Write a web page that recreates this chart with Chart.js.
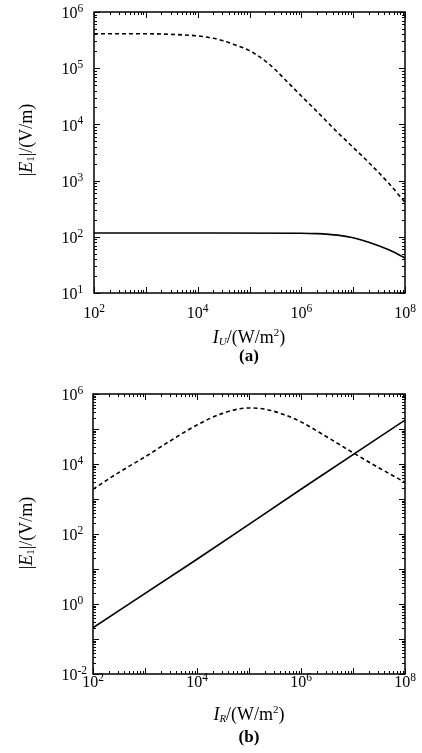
<!DOCTYPE html>
<html>
<head>
<meta charset="utf-8">
<script src="https://cdn.jsdelivr.net/npm/chart.js@4.4.0/dist/chart.umd.min.js"></script>
<style>
    body { margin: 0; background: #fff; }
    canvas { display: block; }
</style>
</head>
<body>
<canvas id="graficoA" width="422" height="380"></canvas>
<canvas id="graficoB" width="422" height="373"></canvas>
<script>
// Panel (a): |E1| frente a I_U
var intensidadU = [1e2, 1e3, 3e3, 1e4, 2e4, 3e4, 5e4, 1e5, 2e5, 3e5, 5e5, 1e6, 2e6, 5e6, 1e7, 2e7, 5e7, 1e8];
var campoDiscontinuoA = [4.1e5, 4.1e5, 4.0e5, 3.75e5, 3.4e5, 3.1e5, 2.65e5, 2.05e5, 1.35e5, 9.8e4, 6.1e4, 3.2e4, 1.7e4, 7.2e3, 3.9e3, 2.1e3, 870, 410];
var intensidadU2 = [1e2, 1e4, 1e6, 2e6, 5e6, 1e7, 2e7, 5e7, 1e8];
var campoSolidoA = [117, 117, 116, 114, 107, 96, 80, 58, 42];

// Panel (b): |E1| frente a I_R
var intensidadR = [1e2, 3e2, 1e3, 3e3, 1e4, 3e4, 1e5, 2e5, 5e5, 1e6, 3e6, 1e7, 3e7, 1e8];
var campoDiscontinuoB = [1.9e3, 5.5e3, 1.6e4, 4.5e4, 1.3e5, 2.75e5, 4.0e5, 3.7e5, 2.5e5, 1.6e5, 6.2e4, 2.1e4, 8.1e3, 3.0e3];
var intensidadR2 = [1e2, 1e4, 1e6, 1e8];
var campoSolidoB = [0.21, 19, 1.9e3, 1.8e5];

// Etiquetas de los ejes
var etiquetasX = [1e2, 1e4, 1e6, 1e8];
var etiquetasYA = [1e1, 1e2, 1e3, 1e4, 1e5, 1e6];
var etiquetasYB = [1e-2, 1e0, 1e2, 1e4, 1e6];

var fuente = "'Liberation Serif', 'Times New Roman', serif";

document.addEventListener('DOMContentLoaded', f_principal);

function f_principal() {
    graficoA();
    graficoB();
}

function exponente(v) {
    return String(Math.round(Math.log10(v)));
}

function puntos(xs, ys) {
    return xs.map(function (x, i) { return { x: x, y: ys[i] }; });
}

// recorre las marcas de una escala logaritmica (decadas y 2..9)
function marcasLog(min, max, cb) {
    var e0 = Math.round(Math.log10(min)), e1 = Math.round(Math.log10(max));
    for (var e = e0; e <= e1; e++) {
        for (var m = 1; m <= 9; m++) {
            var v = m * Math.pow(10, e);
            if (v > max * 1.0001) break;
            cb(v, m == 1 ? 6 : 3);
        }
    }
}

// marco y marcas hacia dentro en los cuatro lados
var pluginMarcas = {
    id: 'marcas',
    afterDatasetsDraw: function (chart) {
        var ctx = chart.ctx, a = chart.chartArea;
        var sx = chart.scales.x, sy = chart.scales.y;
        ctx.save();
        ctx.strokeStyle = '#000';
        ctx.lineWidth = 1;
        ctx.beginPath();
        marcasLog(sx.min, sx.max, function (v, largo) {
            var px = Math.round(sx.getPixelForValue(v)) + 0.5;
            ctx.moveTo(px, a.bottom); ctx.lineTo(px, a.bottom - largo);
            ctx.moveTo(px, a.top); ctx.lineTo(px, a.top + largo);
        });
        marcasLog(sy.min, sy.max, function (v, largo) {
            var py = Math.round(sy.getPixelForValue(v)) + 0.5;
            ctx.moveTo(a.left, py); ctx.lineTo(a.left + largo, py);
            ctx.moveTo(a.right, py); ctx.lineTo(a.right - largo, py);
        });
        ctx.stroke();
        ctx.lineWidth = 1.5;
        ctx.strokeRect(a.left, a.top, a.right - a.left, a.bottom - a.top);
        ctx.restore();
    }
};

// "10" con el exponente elevado; alinear: 'centro' o 'base' (el 10 termina en x)
function potencia(ctx, v, x, y, alinear) {
    var e = exponente(v);
    ctx.font = '16px ' + fuente;
    var a1 = ctx.measureText('10').width;
    ctx.font = '11.5px ' + fuente;
    var a2 = ctx.measureText(e).width;
    var x0 = alinear == 'centro' ? x - (a1 + a2) / 2 : x - a1;
    ctx.textAlign = 'left';
    ctx.textBaseline = 'middle';
    ctx.fillStyle = '#000';
    ctx.font = '16px ' + fuente;
    ctx.fillText('10', x0, y);
    ctx.font = '11.5px ' + fuente;
    ctx.fillText(e, x0 + a1, y - 5);
}

// dibuja un texto con partes en cursiva, subindices y superindices
function textoRico(ctx, partes, x, y, girar) {
    ctx.save();
    ctx.translate(x, y);
    if (girar) ctx.rotate(-Math.PI / 2);
    ctx.textBaseline = 'middle';
    ctx.textAlign = 'left';
    ctx.fillStyle = '#000';
    var total = 0;
    partes.forEach(function (p) {
        ctx.font = (p.estilo || '') + ' ' + (p.peso || '') + ' ' + (p.tam || 18) + 'px ' + fuente;
        p.ancho = ctx.measureText(p.t).width;
        total += p.ancho;
    });
    var cx = -total / 2;
    partes.forEach(function (p) {
        ctx.font = (p.estilo || '') + ' ' + (p.peso || '') + ' ' + (p.tam || 18) + 'px ' + fuente;
        ctx.fillText(p.t, cx, p.dy || 0);
        cx += p.ancho;
    });
    ctx.restore();
}

var pluginRotulos = {
    id: 'rotulos',
    afterDraw: function (chart, args, op) {
        var ctx = chart.ctx, a = chart.chartArea;
        var sx = chart.scales.x, sy = chart.scales.y;
        ctx.save();
        sx.ticks.forEach(function (t) {
            potencia(ctx, t.value, sx.getPixelForValue(t.value), a.bottom + op.sepX, 'centro');
        });
        sy.ticks.forEach(function (t) {
            potencia(ctx, t.value, 77.5, sy.getPixelForValue(t.value) + 2, 'base');
        });
        ctx.restore();
        textoRico(ctx, op.tituloY, op.yX, op.yY, true);
        textoRico(ctx, op.tituloX, op.xX, op.xY, false);
        textoRico(ctx, [{ t: op.letra, peso: 'bold', tam: 17 }], op.xX, op.letraY, false);
    }
};

function tituloY() {
    return [
        { t: '|' },
        { t: 'E', estilo: 'italic' },
        { t: '1', tam: 11, dy: 4 },
        { t: '|/(V/m)' }
    ];
}

function tituloX(sub) {
    return [
        { t: 'I', estilo: 'italic' },
        { t: sub, estilo: 'italic', tam: 11, dy: 4 },
        { t: '/(W/m' },
        { t: '2', tam: 11, dy: -5 },
        { t: ')' }
    ];
}

function serie(xs, ys, discontinua) {
    return {
        data: puntos(xs, ys),
        borderColor: '#000',
        borderWidth: 1.6,
        borderDash: discontinua ? [4, 3] : [],
        pointRadius: 0,
        fill: false,
        cubicInterpolationMode: 'monotone'
    };
}

function opciones(etiquetasY, minY, maxY, anchoY, altoX, arriba, rotulos) {
    return {
        responsive: false,
        animation: false,
        layout: { padding: { top: arriba, right: 17, left: 0, bottom: 0 } },
        plugins: { legend: { display: false }, tooltip: { enabled: false }, rotulos: rotulos },
        scales: {
            x: {
                type: 'logarithmic',
                min: 1e2,
                max: 1e8,
                grid: { display: false },
                border: { display: false },
                afterBuildTicks: function (s) { s.ticks = etiquetasX.map(function (v) { return { value: v }; }); },
                afterFit: function (s) { s.height = altoX; },
                ticks: { display: false }
            },
            y: {
                type: 'logarithmic',
                min: minY,
                max: maxY,
                grid: { display: false },
                border: { display: false },
                afterBuildTicks: function (s) { s.ticks = etiquetasY.map(function (v) { return { value: v }; }); },
                afterFit: function (s) { s.width = anchoY; },
                ticks: { display: false }
            }
        }
    };
}

function graficoA() {
    var ctx = document.getElementById('graficoA').getContext('2d');
    new Chart(ctx, {
        type: 'line',
        data: {
            datasets: [
                serie(intensidadU, campoDiscontinuoA, true),
                serie(intensidadU2, campoSolidoA, false)
            ]
        },
        options: opciones(etiquetasYA, 1e1, 1e6, 94, 87, 12, {
            sepX: 21,
            tituloY: tituloY(), yX: 27, yY: 140,
            tituloX: tituloX('U'), xX: 249, xY: 338,
            letra: '(a)', letraY: 357
        }),
        plugins: [pluginMarcas, pluginRotulos]
    });
}

function graficoB() {
    var ctx = document.getElementById('graficoB').getContext('2d');
    new Chart(ctx, {
        type: 'line',
        data: {
            datasets: [
                serie(intensidadR, campoDiscontinuoB, true),
                serie(intensidadR2, campoSolidoB, false)
            ]
        },
        options: opciones(etiquetasYB, 1e-2, 1e6, 93, 79, 14, {
            sepX: 9,
            tituloY: tituloY(), yX: 27, yY: 153,
            tituloX: tituloX('R'), xX: 249, xY: 335,
            letra: '(b)', letraY: 358
        }),
        plugins: [pluginMarcas, pluginRotulos]
    });
}
</script>
</body>
</html>
